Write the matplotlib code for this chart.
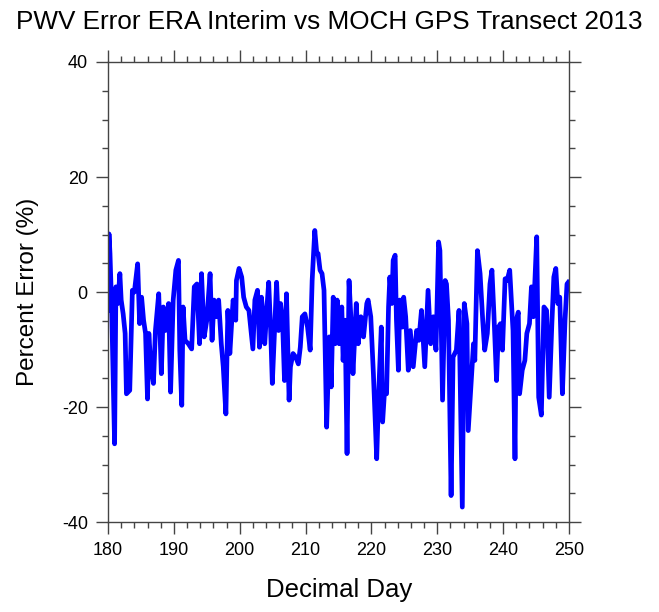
import numpy as np
import matplotlib
matplotlib.use("Agg")
from matplotlib import pyplot as plt
from matplotlib.ticker import MultipleLocator

# decimal day and percent error
day = [180.0, 180.15, 180.3, 180.55, 181.0, 181.2, 181.5, 181.8, 182.0, 182.3,
       182.6, 182.8, 183.3, 183.7, 184.0, 184.5, 184.8, 185.1, 185.4, 185.7,
       186.0, 186.2, 186.5, 186.9, 187.2, 187.7, 188.0, 188.1, 188.4, 188.7,
       189.2, 189.5, 189.9, 190.3, 190.7, 190.9, 191.2, 191.4, 191.7, 192.2,
       192.7, 193.1, 193.5, 193.9, 194.2, 194.6, 195.0, 195.5, 195.8, 196.1,
       196.5, 196.8, 197.2, 197.5, 197.9, 198.2, 198.5, 198.8, 199.0, 199.4,
       199.5, 199.9, 200.3, 200.6, 201.0, 201.4,
       202.0, 202.3, 202.7, 203.0, 203.3, 203.6, 203.8, 204.1, 204.4, 204.7,
       204.95, 205.4, 205.6, 205.9, 206.2, 206.5, 206.8, 207.1, 207.5, 207.7,
       208.1, 208.5, 208.9, 209.2, 209.5, 209.9, 210.3, 210.7, 211.0, 211.4,
       211.7, 211.9, 212.2, 212.5, 212.8, 213.2, 213.6, 213.9, 214.2, 214.5,
       214.8, 215.1, 215.5, 215.7, 216.0, 216.3, 216.6, 216.9, 217.2, 217.7,
       218.0, 218.4, 218.8, 219.3, 219.5, 219.9, 220.3, 220.8, 221.1, 221.5,
       221.7, 222.0, 222.3, 222.6, 222.8, 223.1, 223.3, 223.6, 223.8, 224.1,
       224.3, 224.7, 224.9, 225.2, 225.6, 225.9,
       226.35, 226.86, 227.2, 227.6, 228.1, 228.6, 229.0, 229.4, 229.8, 230.2,
       230.4, 230.8, 231.2, 231.4, 231.7, 232.1, 232.4, 232.9, 233.3, 233.8,
       234.1, 234.5, 234.7, 235.1, 235.5, 235.7, 236.1, 236.5, 236.9, 237.2,
       237.6, 238.0, 238.3, 238.6, 239.0, 239.3, 239.6, 239.9, 240.3, 240.6,
       241.0, 241.3, 241.5, 241.8, 242.0, 242.3, 242.5, 242.9, 243.3, 243.6,
       244.0, 244.3, 244.6, 244.8, 245.1, 245.4, 245.8, 246.2, 246.6, 247.0,
       247.4, 247.7, 248.0, 248.3, 248.6, 249.0, 249.4, 249.7, 249.9]

err = [-3.2, 10.1, 6.7, -2.6, -26.4, 0.9, -2.0, 3.2, -1.4, -3.8,
       -7.2, -17.7, -17.1, 0.3, 0.0, 4.9, -5.5, -0.9, -4.9, -7.2,
       -18.6, -7.2, -13.0, -15.9, -6.7, -0.3, -10.7, -14.2, -2.6, -6.7,
       -2.0, -17.4, -1.4, 3.8, 5.5, -10.1, -19.7, -2.6, -8.4, -9.0,
       -9.9, 0.9, 1.4, -9.0, 3.2, -7.8, -4.9, 3.2, -8.4, -1.4,
       -4.3, -1.4, -9.0, -13.0, -21.2, -3.2, -10.7, -4.9, -1.4, -4.9,
       2.0, 4.1, 2.6, -0.9, -2.6, -3.2,
       -9.9, -1.4, 0.3, -9.6, -0.9, -4.9, -9.0, -3.2, 1.7, -6.7,
       -15.9, -3.8, 1.7, -6.7, -2.0, -4.9, -15.4, -0.3, -18.8, -13.0,
       -10.7, -11.3, -12.5, -9.6, -4.3, -3.8, -6.1, -10.1, 2.0, 10.7,
       6.7, 6.7, 3.8, 3.2, 0.3, -23.5, -7.8, -16.5, -0.9, -9.0,
       -1.4, -9.0, -2.6, -11.9, -4.9, -28.1, 2.0, -4.9, -14.2, -2.0,
       -9.0, -4.3, -7.8, -2.0, -1.4, -4.3, -14.2, -29.0, -17.7, -6.1,
       -22.6, -17.1, -17.7, -2.6, 2.6, -2.0, 5.5, 6.4, -4.9, -13.6,
       -1.4, -6.1, -0.9, -4.3, -13.6, -6.7,
       -13.0, -6.7, -8.4, -3.2, -13.0, 0.3, -9.0, -4.3, -10.1, 8.7,
       7.2, -18.8, 2.0, 1.4, -4.9, -35.4, -11.3, -10.1, -3.2, -37.4,
       -2.0, -5.5, -24.1, -16.5, -9.0, -11.9, 7.2, 3.2, -4.9, -10.1,
       -7.2, 1.4, 3.8, -3.8, -15.4, -6.1, -5.5, -10.1, 2.3, 2.0,
       3.8, -2.6, -6.7, -29.0, -4.9, -3.5, -17.7, -13.6, -11.9, -7.2,
       -5.5, 0.9, -4.3, 1.4, 9.6, -18.3, -21.4, -2.6, -3.2, -18.3,
       -5.5, 2.6, 4.1, -2.0, -0.9, -17.7, -4.9, 1.4, 1.7]

x_ticks = [180, 190, 200, 210, 220, 230, 240, 250]
y_ticks = [-40, -20, 0, 20, 40]

plt.rcParams['font.family'] = ['Liberation Sans', 'DejaVu Sans']
plt.rcParams['axes.unicode_minus'] = False

fig = plt.figure(figsize=(6.59, 6.12), dpi=100)
ax = fig.add_axes([0.1639, 0.147, 0.6995, 0.7517])

ax.plot(day, err, color='#0000ff', linewidth=3.4, solid_joinstyle='round')

ax.set_xlim(180, 250)
ax.set_ylim(-40, 40)
ax.set_xticks(x_ticks)
ax.set_yticks(y_ticks)
ax.xaxis.set_minor_locator(MultipleLocator(2))
ax.yaxis.set_minor_locator(MultipleLocator(5))

ax.tick_params(which='both', direction='out', top=True, right=True,
               labelsize=13, width=1, color='#444444', pad=6)
ax.tick_params(which='major', length=8.5)
ax.tick_params(which='minor', length=4.3)
for s in ax.spines.values():
    s.set_linewidth(1)
    s.set_color('#444444')

fig.text(0.5, 0.964, "PWV Error ERA Interim vs MOCH GPS Transect 2013",
         ha='center', va='center', fontsize=18.8)
fig.text(0.514, 0.036, "Decimal Day", ha='center', va='center', fontsize=18.5)
fig.text(0.042, 0.523, "Percent Error (%)", ha='center', va='center',
         rotation=90, fontsize=17.5)

fig.savefig("out.png", dpi=100)
